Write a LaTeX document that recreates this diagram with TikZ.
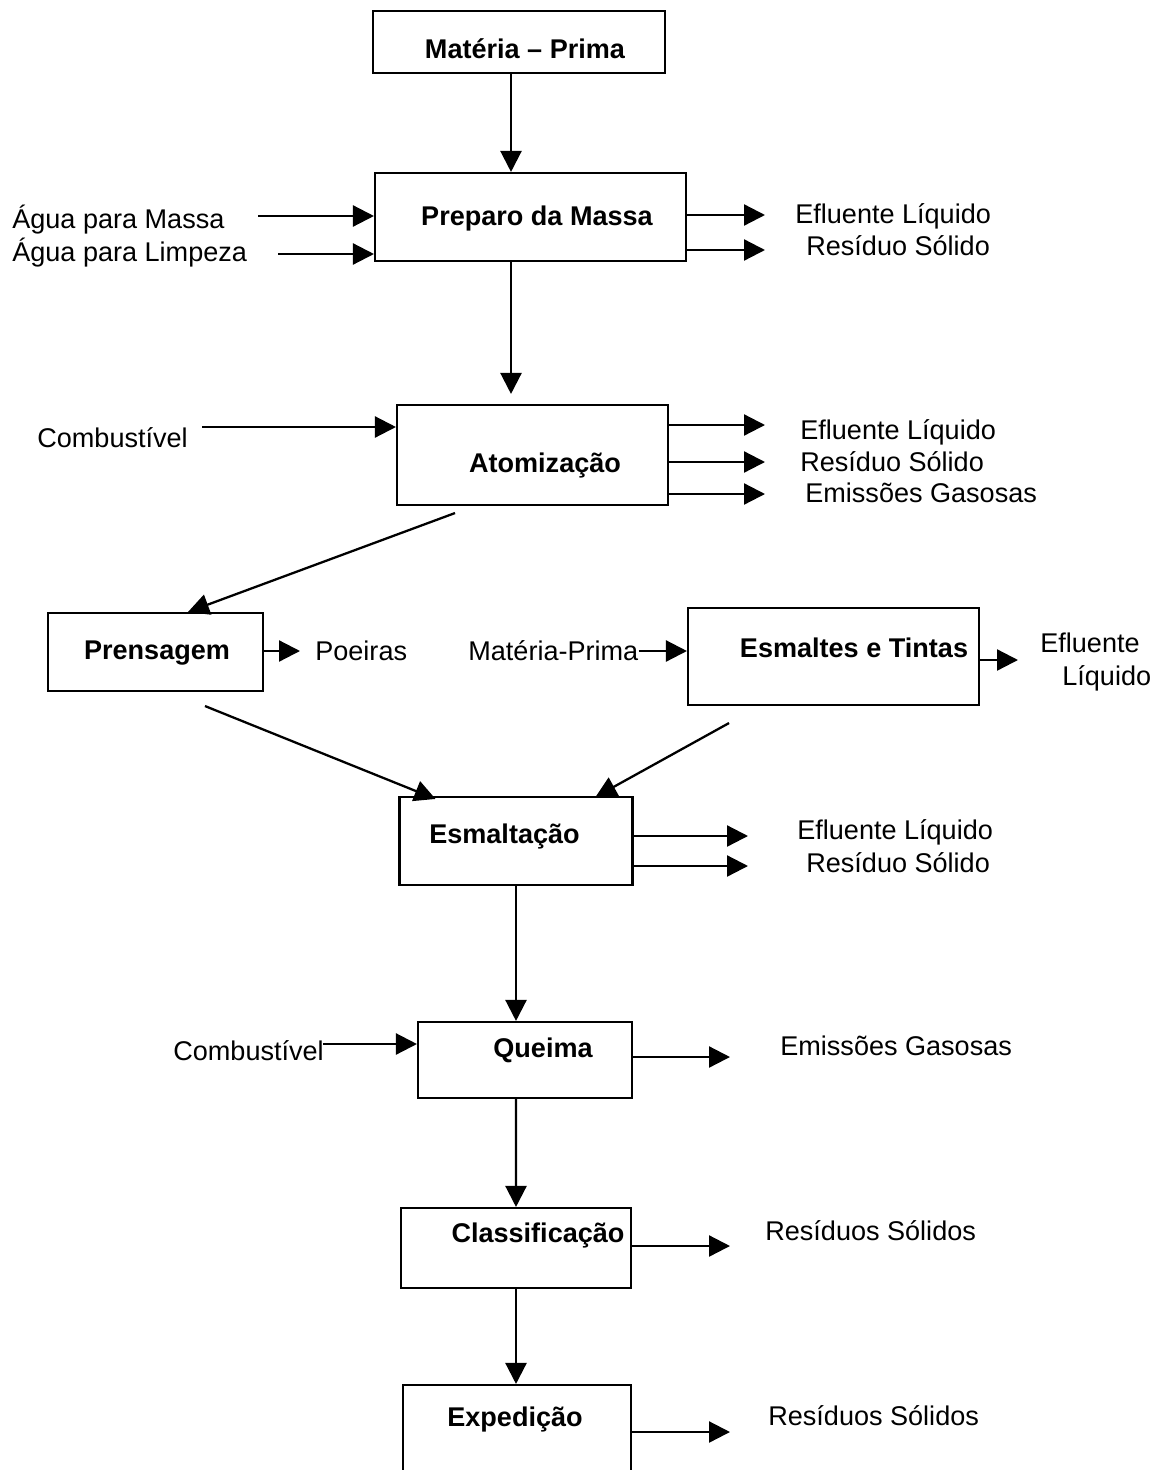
\documentclass[tikz,border=0pt]{standalone}
\usepackage{fontspec}
\setmainfont{Liberation Sans}
\usetikzlibrary{arrows.meta}

\tikzset{
    box/.style={draw, rectangle, line width=1.2pt, inner sep=0pt},
    boxtext/.style={font=\fontsize{15.4}{18}\selectfont\bfseries},
    txt/.style={anchor=west, inner sep=0pt},
    flow/.style={line width=1.3pt, -{Triangle[length=0.42cm,width=0.42cm]}},
}

\begin{document}
\begin{tikzpicture}[x=0.02cm, y=-0.02cm, font=\fontsize{15.4}{18.5}\selectfont]
    \useasboundingbox (0,0) rectangle (1155,1470);
    \clip (0,0) rectangle (1155,1470);

    % process boxes
    \node[box, minimum width=5.84cm, minimum height=1.24cm,
        label={[boxtext,xshift=0.12cm,yshift=-0.14cm]center:Matéria – Prima}](mp) at (519,42) {};
    \node[box, minimum width=6.22cm, minimum height=1.76cm,
        label={[boxtext,xshift=0.13cm,yshift=-0.04cm]center:Preparo da Massa}](prep) at (530.5,217) {};
    \node[box, minimum width=5.42cm, minimum height=2cm,
        label={[boxtext,xshift=0.25cm,yshift=-0.22cm]center:Atomização}](atom) at (532.5,455) {};
    \node[box, minimum width=4.3cm, minimum height=1.56cm,
        label={[boxtext,xshift=0.03cm,yshift=-0.02cm]center:Prensagem}](pren) at (155.5,652) {};
    \node[box, minimum width=5.82cm, minimum height=1.94cm,
        label={[boxtext,xshift=0.41cm,yshift=0.17cm]center:Esmaltes e Tintas}](esm) at (833.5,656.5) {};
    \node[box, minimum width=4.66cm, minimum height=1.76cm,
        label={[boxtext,xshift=-0.23cm,yshift=0.1cm]center:Esmaltação}](esmt) at (516,841) {};
    \node[box, minimum width=4.28cm, minimum height=1.52cm,
        label={[boxtext,xshift=0.36cm,yshift=0.2cm]center:Queima}](que) at (525,1060) {};
    \node[box, minimum width=4.6cm, minimum height=1.6cm,
        label={[boxtext,xshift=0.44cm,yshift=0.26cm]center:Classificação}](cla) at (516,1248) {};
    \node[box, minimum width=4.56cm, minimum height=3.2cm,
        label={[boxtext,xshift=-0.04cm,yshift=0.92cm]center:Expedição}](exp) at (517,1465) {};

    % inputs
    \node[txt](agm) at (12,220) {Água para Massa};
    \node[txt](agl) at (12,253) {Água para Limpeza};
    \node[txt](comb1) at (37,438) {Combustível};
    \node[txt](matp) at (468,651) {Matéria-Prima};
    \node[txt](comb2) at (173,1051) {Combustível};

    % outputs
    \node[txt](el1) at (795,216) {Efluente Líquido};
    \node[txt](rs1) at (806,246) {Resíduo Sólido};
    \node[txt](el2) at (800,432) {Efluente Líquido};
    \node[txt](rs2) at (800,462) {Resíduo Sólido};
    \node[txt](eg1) at (805,493) {Emissões Gasosas};
    \node[txt](poe) at (315,651) {Poeiras};
    \node[txt, align=left](el3) at (1040,662) {Efluente\\\hspace*{0.44cm}Líquido};
    \node[txt](el4) at (797,832) {Efluente Líquido};
    \node[txt](rs3) at (806,863) {Resíduo Sólido};
    \node[txt](eg2) at (780,1046) {Emissões Gasosas};
    \node[txt](rs4) at (765,1231) {Resíduos Sólidos};
    \node[txt](rs5) at (768,1416) {Resíduos Sólidos};

    % free ends of the side arrows
    \coordinate (i1) at (258,216);
    \coordinate (i2) at (278,254);
    \coordinate (i3) at (202,427);
    \coordinate (i4) at (323,1044);
    \coordinate (o1) at (765,215);
    \coordinate (o2) at (765,250);
    \coordinate (o3) at (765,425);
    \coordinate (o4) at (765,462);
    \coordinate (o5) at (765,494);
    \coordinate (o6) at (300,651);
    \coordinate (o7) at (1018,660);
    \coordinate (o8) at (748,836);
    \coordinate (o9) at (748,866);
    \coordinate (o10) at (730,1057);
    \coordinate (o11) at (730,1246);
    \coordinate (o12) at (730,1432);

    % main flow
    \draw[flow] ([xshift=-0.16cm]mp.south) -- ([xshift=-0.16cm]mp.south |- prep.north);
    \draw[flow, shorten >=0.2cm] ([xshift=-0.39cm]prep.south) -- ([xshift=-0.39cm]prep.south |- atom.north);
    \draw[flow] ([xshift=-1.55cm,yshift=-0.14cm]atom.south) -- ([xshift=0.65cm]pren.north);
    \draw[flow] ([xshift=0.99cm,yshift=-0.28cm]pren.south) -- ([xshift=-1.61cm,yshift=-0.06cm]esmt.north);
    \draw[flow] ([xshift=-2.09cm,yshift=-0.34cm]esm.south) -- ([xshift=1.59cm,yshift=-0.02cm]esmt.north);
    \draw[flow] (esmt.south) -- (esmt.south |- que.north);
    \draw[flow] ([xshift=-0.18cm]que.south) -- (cla.north);
    \draw[flow] (cla.south) -- (cla.south |- exp.north);

    % side inputs
    \draw[flow] (i1) -- (i1 -| prep.west);
    \draw[flow] (i2) -- (i2 -| prep.west);
    \draw[flow] (i3) -- (i3 -| atom.west);
    \draw[flow] (matp.east) -- (matp.east -| esm.west);
    \draw[flow] (i4) -- (i4 -| que.west);

    % side outputs
    \draw[flow] (o1 -| prep.east) -- (o1);
    \draw[flow] (o2 -| prep.east) -- (o2);
    \draw[flow] (o3 -| atom.east) -- (o3);
    \draw[flow] (o4 -| atom.east) -- (o4);
    \draw[flow] (o5 -| atom.east) -- (o5);
    \draw[flow] (o6 -| pren.east) -- (o6);
    \draw[flow] (o7 -| esm.east) -- (o7);
    \draw[flow] (o8 -| esmt.east) -- (o8);
    \draw[flow] (o9 -| esmt.east) -- (o9);
    \draw[flow] (o10 -| que.east) -- (o10);
    \draw[flow] (o11 -| cla.east) -- (o11);
    \draw[flow] (o12 -| exp.east) -- (o12);
\end{tikzpicture}
\end{document}
